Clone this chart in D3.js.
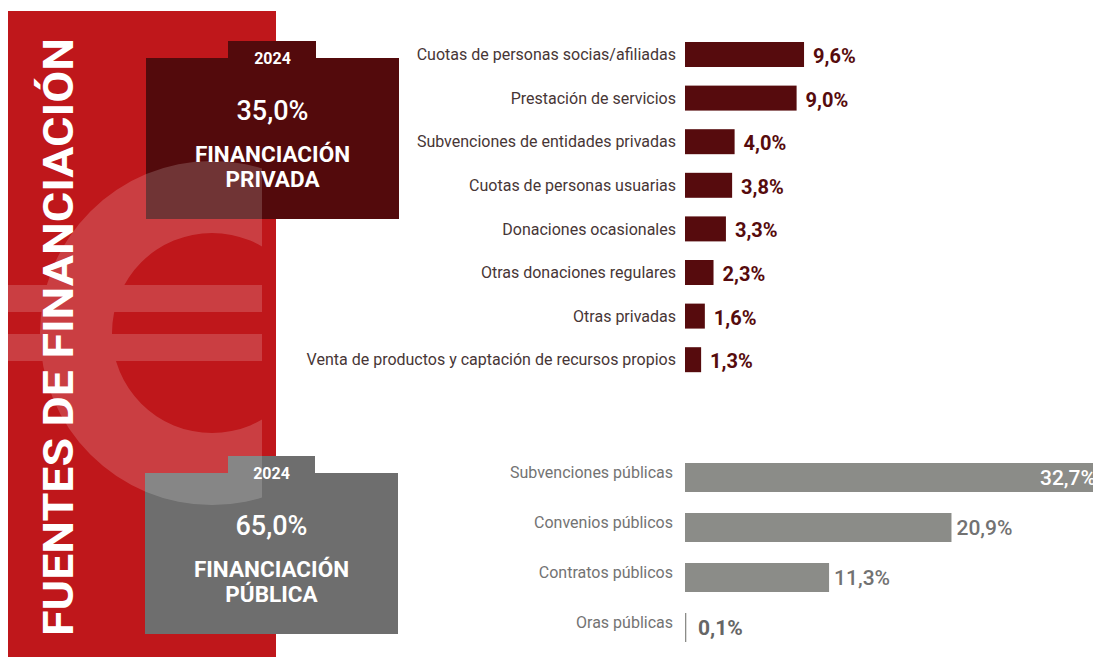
<!DOCTYPE html>
<html>
<head>
<meta charset="utf-8">
<script src="https://cdn.jsdelivr.net/npm/d3@7"></script>
<style>
  html, body { margin: 0; padding: 0; background: #ffffff; }
  svg { display: block; font-family: Roboto, "Noto Sans", sans-serif; }
</style>
</head>
<body>
<svg id="chart" width="1093" height="657"></svg>
<script>
// Funding sources, 2024
const year = "2024";
const privateTotal = 35.0;
const publicTotal = 65.0;

const privateCategories = [
  "Cuotas de personas socias/afiliadas",
  "Prestación de servicios",
  "Subvenciones de entidades privadas",
  "Cuotas de personas usuarias",
  "Donaciones ocasionales",
  "Otras donaciones regulares",
  "Otras privadas",
  "Venta de productos y captación de recursos propios"
];
const privateValues = [9.6, 9.0, 4.0, 3.8, 3.3, 2.3, 1.6, 1.3];

const publicCategories = [
  "Subvenciones públicas",
  "Convenios públicos",
  "Contratos públicos",
  "Oras públicas"
];
const publicValues = [32.7, 20.9, 11.3, 0.1];

const fmt = v => d3.format(".1f")(v).replace(".", ",") + "%";

const svg = d3.select("#chart");

// ---- left red panel ----
const panel = { x: 8, y: 11, w: 268, h: 660 };
svg.append("rect")
  .attr("x", panel.x).attr("y", panel.y)
  .attr("width", panel.w).attr("height", panel.h)
  .attr("fill", "#bf171b");

// summary boxes with a small tab on top
const boxes = [
  { x: 146, y: 58, w: 253, h: 161, tabX: 228, tabW: 88, tabH: 17, fill: "#530a0c",
    total: privateTotal, lines: ["FINANCIACIÓN", "PRIVADA"] },
  { x: 145, y: 473, w: 253, h: 161, tabX: 228, tabW: 87, tabH: 17, fill: "#6e6e6e",
    total: publicTotal, lines: ["FINANCIACIÓN", "PÚBLICA"] }
];

boxes.forEach(b => {
  svg.append("rect").attr("x", b.x).attr("y", b.y).attr("width", b.w).attr("height", b.h).attr("fill", b.fill);
  svg.append("rect").attr("x", b.tabX).attr("y", b.y - b.tabH).attr("width", b.tabW).attr("height", b.tabH).attr("fill", b.fill);
});

// translucent euro sign drawn over the panel and the boxes
const euroClip = svg.append("defs").append("clipPath").attr("id", "euroClip");
euroClip.append("rect").attr("x", 8).attr("y", 0).attr("width", 254).attr("height", 657);

const euro = svg.append("g")
  .attr("clip-path", "url(#euroClip)")
  .attr("opacity", 0.17);
const euroCx = 212, euroCy = 333;
euro.append("path")
  .attr("transform", `translate(${euroCx},${euroCy})`)
  .attr("d", d3.arc()({ innerRadius: 100, outerRadius: 172, startAngle: 0, endAngle: 2 * Math.PI }))
  .attr("fill", "#ffffff");
euro.append("rect").attr("x", 0).attr("y", 285).attr("width", 262).attr("height", 27).attr("fill", "#ffffff");
euro.append("rect").attr("x", 0).attr("y", 334).attr("width", 262).attr("height", 27).attr("fill", "#ffffff");

// box texts
boxes.forEach(b => {
  const cx = b.x + b.w / 2;
  const g = svg.append("g").attr("fill", "#ffffff").attr("text-anchor", "middle");
  g.append("text").attr("x", cx).attr("y", b.y + 5.5)
    .attr("font-size", 16).attr("font-weight", 700).text(year);
  g.append("text").attr("x", cx).attr("y", b.y + 62)
    .attr("font-size", 27).attr("font-weight", 500).text(fmt(b.total));
  b.lines.forEach((t, i) => {
    g.append("text").attr("x", cx).attr("y", b.y + 104 + i * 25)
      .attr("font-size", 22.5).attr("font-weight", 700).text(t);
  });
});

// vertical title
svg.append("text")
  .attr("transform", "translate(73,636) rotate(-90)")
  .attr("fill", "#ffffff")
  .attr("font-size", 42)
  .attr("font-weight", 700)
  .attr("textLength", 598)
  .attr("lengthAdjust", "spacingAndGlyphs")
  .text("FUENTES DE FINANCIACIÓN");

// ---- private funding bars ----
const xPriv = d3.scaleLinear().domain([0, 10]).range([685, 809]);
const yPriv = d3.scaleBand().domain(privateCategories)
  .range([32.7, 381.5]).paddingInner(0.427).paddingOuter(0.2135);

const priv = svg.append("g");
priv.selectAll("rect").data(privateCategories).join("rect")
  .attr("x", xPriv(0))
  .attr("y", d => yPriv(d))
  .attr("width", (d, i) => xPriv(privateValues[i]) - xPriv(0))
  .attr("height", yPriv.bandwidth())
  .attr("fill", "#560b0d");

priv.selectAll("text.cat").data(privateCategories).join("text")
  .attr("class", "cat")
  .attr("x", xPriv(0) - 9)
  .attr("y", d => yPriv(d) + yPriv.bandwidth() / 2)
  .attr("dy", "0.35em")
  .attr("text-anchor", "end")
  .attr("font-size", 16)
  .attr("fill", "#473636")
  .text(d => d);

priv.selectAll("text.val").data(privateCategories).join("text")
  .attr("class", "val")
  .attr("x", (d, i) => xPriv(privateValues[i]) + 9)
  .attr("y", d => yPriv(d) + yPriv.bandwidth() / 2 + 1.5)
  .attr("dy", "0.35em")
  .attr("font-size", 20)
  .attr("font-weight", 700)
  .attr("fill", "#560b0d")
  .text((d, i) => fmt(privateValues[i]));

// ---- public funding bars ----
const xPub = d3.scaleLinear().domain([0, 10]).range([685, 812.5]);
const yPub = d3.scaleBand().domain(publicCategories)
  .range([452.5, 652.5]).paddingInner(0.42).paddingOuter(0.21);

const pub = svg.append("g");
pub.selectAll("rect").data(publicCategories).join("rect")
  .attr("x", xPub(0))
  .attr("y", d => yPub(d))
  .attr("width", (d, i) => Math.max(1.3, xPub(publicValues[i]) - xPub(0)))
  .attr("height", yPub.bandwidth())
  .attr("fill", "#8b8c88");

pub.selectAll("text.cat").data(publicCategories).join("text")
  .attr("class", "cat")
  .attr("x", xPub(0) - 12)
  .attr("y", d => yPub(d) + yPub.bandwidth() / 2 - 5)
  .attr("dy", "0.35em")
  .attr("text-anchor", "end")
  .attr("font-size", 16)
  .attr("fill", "#737373")
  .text(d => d);

// the widest bar carries its value inside, the others just after the bar end
const maxPub = d3.max(publicValues);
pub.selectAll("text.val").data(publicCategories).join("text")
  .attr("class", "val")
  .attr("x", (d, i) => {
    const v = publicValues[i];
    if (v === maxPub) return xPub(v) - 6;
    return Math.max(xPub(v), xPub(0) + 8) + 5;
  })
  .attr("y", d => yPub(d) + yPub.bandwidth() / 2)
  .attr("dy", "0.35em")
  .attr("text-anchor", (d, i) => publicValues[i] === maxPub ? "end" : "start")
  .attr("font-size", 21)
  .attr("font-weight", (d, i) => publicValues[i] < 1 ? 700 : 500)
  .attr("fill", (d, i) => publicValues[i] === maxPub ? "#ffffff" : (publicValues[i] < 1 ? "#666666" : "#727272"))
  .text((d, i) => fmt(publicValues[i]));
</script>
</body>
</html>
